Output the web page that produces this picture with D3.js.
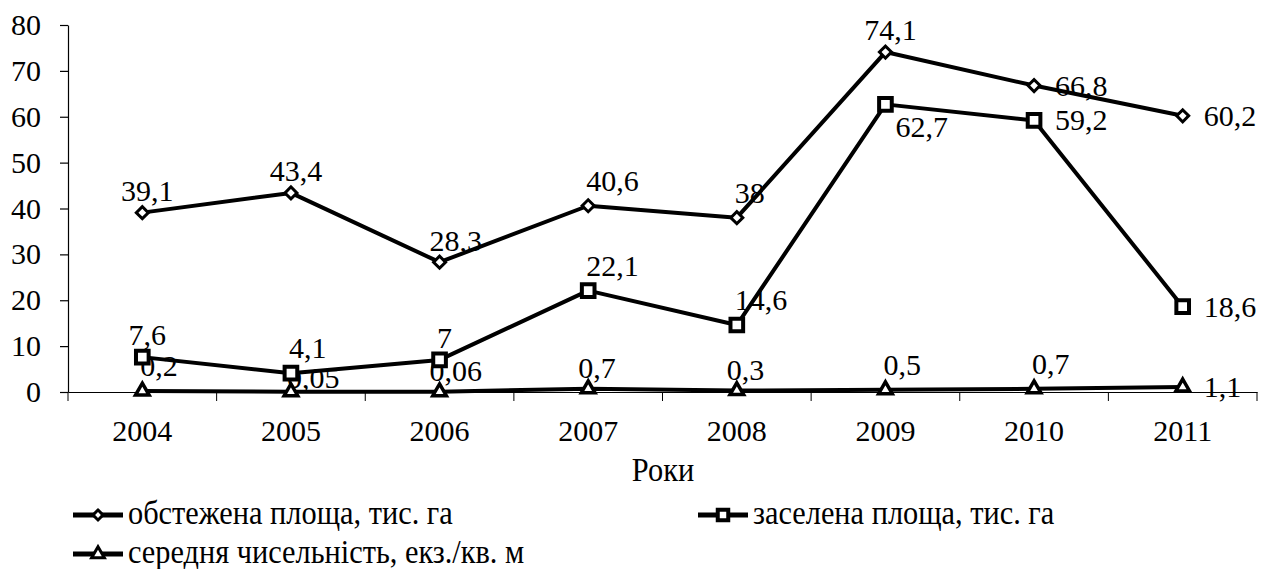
<!DOCTYPE html>
<html>
<head>
<meta charset="utf-8">
<script src="https://cdn.jsdelivr.net/npm/d3@7"></script>
<style>
  html, body { margin: 0; padding: 0; background: #fff; }
  svg text { font-family: "Liberation Serif", Tinos, "Times New Roman", Times, serif; fill: #000; }
</style>
</head>
<body>
<div id="chart"></div>
<script>
// data
var years = ['2004', '2005', '2006', '2007', '2008', '2009', '2010', '2011'];
var surveyed = [39.1, 43.4, 28.3, 40.6, 38, 74.1, 66.8, 60.2];   // обстежена площа
var infested = [7.6, 4.1, 7, 22.1, 14.6, 62.7, 59.2, 18.6];      // заселена площа
var density  = [0.2, 0.05, 0.06, 0.7, 0.3, 0.5, 0.7, 1.1];       // середня чисельність
var yTicks = [0, 10, 20, 30, 40, 50, 60, 70, 80];

// where each data label sits relative to its point
var surveyedPlace = ['N', 'N', 'NW', 'NE', 'NE', 'N', 'E', 'E'];
var infestedPlace = ['N', 'NE', 'N', 'NE', 'NE', 'SE', 'E', 'E'];
var densityPlace  = ['NE', 'ENE', 'NW', 'NW', 'NW', 'NE', 'NE', 'E'];

var places = {
  N:   { anchor: 'middle', dx: 5,   dy: -12 },
  NE:  { anchor: 'start',  dx: -2,  dy: -15 },
  NW:  { anchor: 'start',  dx: -10, dy: -11 },
  ENE: { anchor: 'start',  dx: -4,  dy: -4 },
  E:   { anchor: 'start',  dx: 21,  dy: 10 },
  SE:  { anchor: 'start',  dx: 10,  dy: 33 }
};

var W = 1265, H = 569;

var svg = d3.select('#chart').append('svg')
  .attr('width', W).attr('height', H);

var x = d3.scaleBand().domain(years).range([68, 1257]);
var y = d3.scaleLinear().domain([0, 80]).range([392, 25]);

var fmt = function(v) { return String(v).replace('.', ','); };

// y axis
var yAxis = svg.append('g')
  .attr('transform', 'translate(68,0)')
  .call(d3.axisLeft(y).tickValues(yTicks).tickSize(8).tickSizeOuter(0).tickPadding(19));
yAxis.attr('font-family', null);
yAxis.selectAll('text').style('font-size', '30px');

// x axis: labels at band centres, ticks on band edges
var xAxis = svg.append('g')
  .attr('transform', 'translate(0,392)')
  .call(d3.axisBottom(x).tickSize(0).tickPadding(28));
xAxis.attr('font-family', null);
xAxis.selectAll('text').style('font-size', '30px');

xAxis.selectAll('line.edge')
  .data(d3.range(years.length + 1))
  .enter().append('line')
    .attr('class', 'edge')
    .attr('x1', function(i) { return x.range()[0] + i * x.step(); })
    .attr('x2', function(i) { return x.range()[0] + i * x.step(); })
    .attr('y1', 0).attr('y2', 9)
    .attr('stroke', '#000');

svg.selectAll('.domain, .tick line').attr('stroke', '#000').attr('stroke-width', 1.2);

// axis title
svg.append('text')
  .attr('transform', 'translate(663,481) scale(0.92,1)')
  .attr('text-anchor', 'middle')
  .style('font-size', '33px')
  .text('Роки');

var series = [
  { values: surveyed, place: surveyedPlace, marker: 'diamond' },
  { values: infested, place: infestedPlace, marker: 'square' },
  { values: density,  place: densityPlace,  marker: 'triangle' }
];

var cx = function(i) { return x(years[i]) + x.bandwidth() / 2; };

var markerPath = {
  diamond:  d3.symbol().type(d3.symbolSquare).size(72)(),
  square:   d3.symbol().type(d3.symbolSquare).size(160)(),
  triangle: d3.symbol().type(d3.symbolTriangle).size(80)()
};
var markerStroke = { diamond: 3, square: 4, triangle: 3.5 };

// data labels go under the lines, as in the original
series.forEach(function(s) {
  svg.append('g').selectAll('text')
    .data(s.values)
    .enter().append('text')
      .attr('x', function(d, i) { return cx(i) + places[s.place[i]].dx; })
      .attr('y', function(d, i) { return y(d) + places[s.place[i]].dy; })
      .attr('text-anchor', function(d, i) { return places[s.place[i]].anchor; })
      .style('font-size', '30px')
      .text(fmt);
});

var line = d3.line()
  .x(function(d, i) { return cx(i); })
  .y(function(d) { return y(d); });

series.forEach(function(s) {
  svg.append('path')
    .datum(s.values)
    .attr('d', line)
    .attr('fill', 'none')
    .attr('stroke', '#000')
    .attr('stroke-width', 4)
    .attr('stroke-linejoin', 'round');
});

series.forEach(function(s) {
  svg.append('g').selectAll('path')
    .data(s.values)
    .enter().append('path')
      .attr('d', markerPath[s.marker])
      .attr('transform', function(d, i) {
        return 'translate(' + cx(i) + ',' + y(d) + ')' + (s.marker === 'diamond' ? ' rotate(45)' : '');
      })
      .attr('fill', '#fff')
      .attr('stroke', '#000')
      .attr('stroke-width', markerStroke[s.marker]);
});

// legend
var legendItems = [
  { label: 'обстежена площа, тис. га', marker: 'diamond', x: 73, y: 515 },
  { label: 'заселена площа, тис. га', marker: 'square', x: 698, y: 515 },
  { label: 'середня чисельність, екз./кв. м', marker: 'triangle', x: 73, y: 554 }
];
var legendMarker = {
  diamond:  d3.symbol().type(d3.symbolSquare).size(50)(),
  square:   d3.symbol().type(d3.symbolSquare).size(110)(),
  triangle: d3.symbol().type(d3.symbolTriangle).size(70)()
};

var lg = svg.append('g').selectAll('g')
  .data(legendItems)
  .enter().append('g')
    .attr('transform', function(d) { return 'translate(' + d.x + ',' + d.y + ')'; });

lg.append('line')
  .attr('x1', 0).attr('x2', 50)
  .attr('y1', 0).attr('y2', 0)
  .attr('stroke', '#000').attr('stroke-width', 5);

lg.append('path')
  .attr('d', function(d) { return legendMarker[d.marker]; })
  .attr('transform', function(d) { return 'translate(25,0)' + (d.marker === 'diamond' ? ' rotate(45)' : ''); })
  .attr('fill', '#fff')
  .attr('stroke', '#000')
  .attr('stroke-width', function(d) { return d.marker === 'square' ? 4 : 3; });

lg.append('text')
  .attr('transform', 'translate(55,9) scale(0.92,1)')
  .style('font-size', '33px')
  .text(function(d) { return d.label; });
</script>
</body>
</html>
